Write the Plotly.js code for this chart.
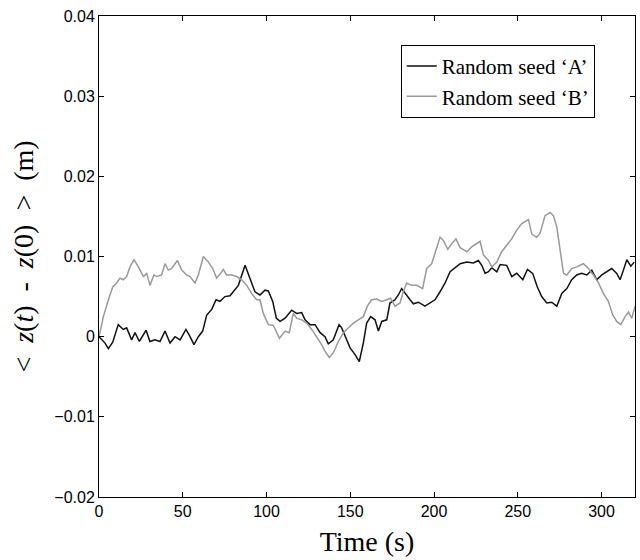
<!DOCTYPE html>
<html>
<head>
<meta charset="utf-8">
<script src="https://cdn.plot.ly/plotly-3.0.1.min.js"></script>
<style>
  html, body { margin: 0; padding: 0; background: #fff; }
  #chart { width: 640px; height: 560px; }
</style>
</head>
<body>
<div id="chart"></div>
<script>
// Time (s) and mean displacement (m) for the two random seeds
const timeA = [0, 3.6, 5.6, 8.2, 11.5, 14.5, 16.5, 19.5, 21.5, 24.1, 28.1, 30.4, 33.4, 36.4, 39.4, 42.4, 45.4, 48.4, 51.9, 53.9, 56.7, 59.3, 61.9, 64.3, 67.3, 69.9, 72.2, 75.2, 78.2, 80.2, 83.2, 87.2, 90.2, 93.1, 96.1, 99.1, 101.1, 103.7, 105.9, 108.1, 111.1, 115.0, 118.0, 121.0, 123.0, 126.0, 129.0, 132.0, 134.9, 136.9, 139.9, 143.3, 144.9, 147.5, 149.9, 152.8, 155.4, 157.8, 159.8, 162.2, 164.8, 166.8, 168.8, 171.8, 173.7, 176.7, 178.7, 180.7, 182.7, 185.7, 187.7, 190.7, 194.6, 197.6, 200.6, 203.6, 206.6, 209.6, 212.6, 215.6, 219.6, 223.5, 226.5, 228.5, 230.5, 232.5, 234.5, 237.5, 239.5, 243.4, 246.4, 249.4, 253.0, 255.8, 258.9, 261.7, 264.3, 267.3, 270.3, 273.3, 276.3, 279.3, 282.2, 285.2, 288.2, 291.2, 294.2, 297.2, 300.2, 303.1, 306.1, 309.1, 311.1, 313.1, 315.1, 317.5, 319.5];
const seedA = [0, -0.0008, -0.0015, -0.0007, 0.0015, 0.0009, 0.0011, -0.0004, 0.0005, -0.0006, 0.0008, -0.0006, -0.0004, -0.0006, 0.0007, -0.0008, 0.0000, -0.0004, 0.0009, 0.0002, -0.0010, 0.0000, 0.0007, 0.0027, 0.0034, 0.0046, 0.0044, 0.0050, 0.0051, 0.0056, 0.0064, 0.0089, 0.0073, 0.0056, 0.0052, 0.0058, 0.0057, 0.0044, 0.0023, 0.0019, 0.0023, 0.0033, 0.0029, 0.0030, 0.0021, 0.0015, 0.0015, 0.0005, 0.0000, -0.0009, -0.0004, 0.0015, 0.0011, -0.0002, -0.0014, -0.0022, -0.0031, -0.0008, 0.0017, 0.0025, 0.0021, 0.0007, 0.0019, 0.0021, 0.0042, 0.0046, 0.0052, 0.0060, 0.0054, 0.0046, 0.0041, 0.0043, 0.0038, 0.0042, 0.0046, 0.0056, 0.0067, 0.0081, 0.0086, 0.0091, 0.0093, 0.0092, 0.0095, 0.0089, 0.0079, 0.0081, 0.0086, 0.0081, 0.0090, 0.0089, 0.0075, 0.0079, 0.0071, 0.0084, 0.0079, 0.0062, 0.0050, 0.0042, 0.0043, 0.0038, 0.0054, 0.0060, 0.0071, 0.0077, 0.0079, 0.0077, 0.0083, 0.0071, 0.0077, 0.0081, 0.0085, 0.0079, 0.0071, 0.0083, 0.0096, 0.0088, 0.0093];

const timeB = [0, 2.6, 5.6, 8.2, 10.5, 12.5, 14.5, 16.5, 18.5, 20.9, 23.5, 26.5, 28.5, 30.4, 32.8, 34.4, 37.4, 39.4, 41.4, 43.4, 46.8, 49.4, 52.3, 54.3, 57.3, 59.3, 62.3, 65.3, 67.9, 70.2, 72.6, 74.2, 76.2, 79.2, 82.2, 85.2, 88.2, 91.1, 94.1, 96.1, 98.1, 101.1, 104.1, 107.7, 111.1, 113.6, 116.0, 118.0, 121.0, 124.0, 127.0, 130.0, 132.9, 134.9, 137.5, 139.9, 142.9, 145.9, 148.9, 151.9, 154.8, 157.8, 160.2, 162.8, 165.8, 168.8, 171.8, 174.1, 176.7, 179.7, 181.7, 183.7, 186.7, 189.7, 193.2, 195.6, 198.6, 200.6, 203.6, 205.6, 208.2, 210.6, 213.1, 215.6, 219.6, 222.5, 227.5, 229.5, 232.5, 234.5, 237.5, 240.4, 243.4, 246.4, 249.4, 252.4, 256.4, 258.4, 261.3, 263.3, 266.3, 269.3, 271.3, 273.3, 275.3, 277.3, 279.3, 282.2, 285.2, 289.2, 292.2, 295.2, 298.2, 301.1, 304.1, 306.7, 309.1, 311.5, 314.1, 316.1, 318.1, 320];
const seedB = [0, 0.0025, 0.0046, 0.0062, 0.0067, 0.0073, 0.0071, 0.0075, 0.0087, 0.0096, 0.0087, 0.0075, 0.0079, 0.0064, 0.0077, 0.0075, 0.0077, 0.0091, 0.0083, 0.0085, 0.0095, 0.0083, 0.0077, 0.0075, 0.0067, 0.0077, 0.0100, 0.0093, 0.0085, 0.0073, 0.0079, 0.0084, 0.0077, 0.0077, 0.0075, 0.0071, 0.0064, 0.0054, 0.0046, 0.0046, 0.0029, 0.0015, 0.0014, -0.0002, 0.0007, 0.0005, 0.0029, 0.0023, 0.0021, 0.0017, 0.0009, 0.0000, -0.0010, -0.0018, -0.0026, -0.0020, -0.0006, 0.0005, 0.0011, 0.0017, 0.0021, 0.0025, 0.0038, 0.0046, 0.0047, 0.0044, 0.0046, 0.0048, 0.0038, 0.0042, 0.0056, 0.0067, 0.0064, 0.0064, 0.0060, 0.0085, 0.0091, 0.0104, 0.0124, 0.0120, 0.0109, 0.0116, 0.0122, 0.0111, 0.0106, 0.0112, 0.0119, 0.0102, 0.0095, 0.0087, 0.0093, 0.0106, 0.0114, 0.0122, 0.0133, 0.0141, 0.0146, 0.0128, 0.0124, 0.0129, 0.0151, 0.0155, 0.0151, 0.0137, 0.0108, 0.0079, 0.0077, 0.0085, 0.0087, 0.0091, 0.0085, 0.0077, 0.0067, 0.0054, 0.0044, 0.0027, 0.0019, 0.0015, 0.0025, 0.0031, 0.0023, 0.0038];

const legendNames = ["Random seed \u2018A\u2019", "Random seed \u2018B\u2019"];
const xTitle = "Time (s)";
const yTitle = "<\u00A0 <i>z</i>(<i>t</i>) \u00A0-\u00A0 <i>z</i>(0) \u00A0>\u00A0 (m)";

const serif = "Liberation Serif, Times New Roman, serif";
const sans = "Liberation Sans, Arial, Helvetica, sans-serif";

const traces = [
  { x: timeA, y: seedA, type: "scatter", mode: "lines", name: legendNames[0],
    line: { color: "#111111", width: 1.5 } },
  { x: timeB, y: seedB, type: "scatter", mode: "lines", name: legendNames[1],
    line: { color: "#9a9a9a", width: 1.5 } }
];

const axisCommon = {
  showline: true, linecolor: "#000", linewidth: 1, mirror: "ticks",
  ticks: "inside", ticklen: 5, tickcolor: "#000", tickwidth: 1,
  showgrid: false, zeroline: false,
  tickfont: { family: sans, size: 16, color: "#000" }
};

const layout = {
  width: 640, height: 560,
  margin: { l: 99, r: 5, t: 16, b: 63 },
  paper_bgcolor: "#fff", plot_bgcolor: "#fff",
  showlegend: true,
  legend: {
    x: 0.563, y: 0.94, xanchor: "left", yanchor: "top",
    bordercolor: "#000", borderwidth: 1, bgcolor: "#fff",
    font: { family: serif, size: 21, color: "#000" },
    itemwidth: 30, tracegroupgap: 0
  },
  xaxis: Object.assign({}, axisCommon, {
    range: [0, 320], tick0: 0, dtick: 50,
    title: { text: xTitle, font: { family: serif, size: 28, color: "#000" }, standoff: 12 }
  }),
  yaxis: Object.assign({}, axisCommon, {
    range: [-0.02, 0.04], tick0: -0.02, dtick: 0.01,
    title: { text: yTitle, font: { family: serif, size: 28, color: "#000" }, standoff: 12 }
  })
};

Plotly.newPlot("chart", traces, layout, { displayModeBar: false, staticPlot: true });
</script>
</body>
</html>
